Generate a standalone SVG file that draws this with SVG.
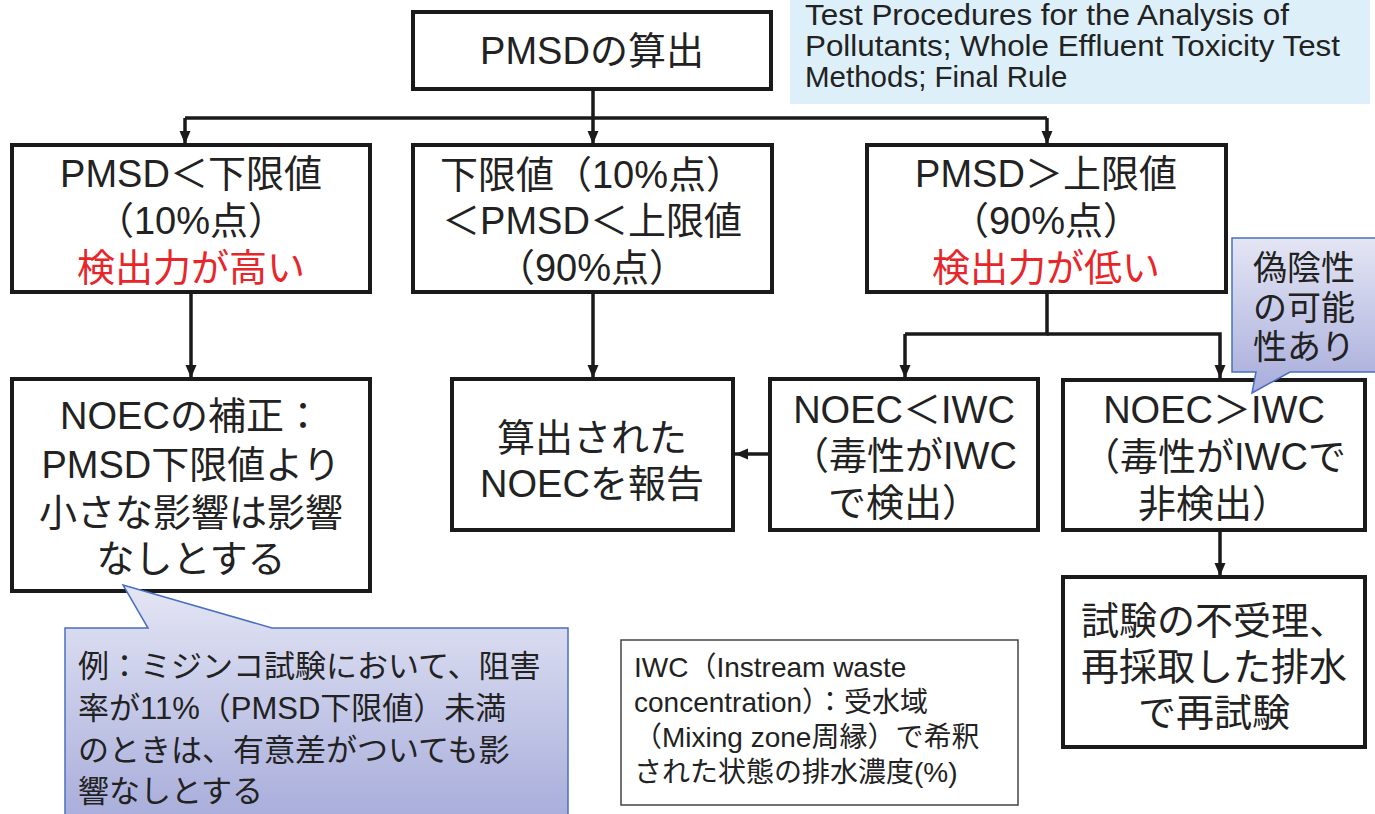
<svg xmlns="http://www.w3.org/2000/svg" width="1375" height="814" viewBox="0 0 1375 814">
<defs>
<marker id="ah" markerUnits="userSpaceOnUse" markerWidth="14" markerHeight="14" viewBox="0 0 14 14" refX="13" refY="7" orient="auto">
<path d="M0,1.5 L13,7 L0,12.5 Z" fill="#1a1a1a"/>
</marker>
<linearGradient id="cg" x1="0" y1="0" x2="0" y2="1">
<stop offset="0" stop-color="#e4e6f4"/>
<stop offset="1" stop-color="#a8addb"/>
</linearGradient>
</defs>
<style>
text{font-family:"Liberation Sans","Noto Sans CJK JP",sans-serif;fill:#222;}
.box{fill:#fff;stroke:#1a1a1a;stroke-width:4;}
.t{font-size:38px;text-anchor:middle;}
.red{fill:#e8262a;}
.con{fill:none;stroke:#1a1a1a;stroke-width:3.5;}
.call{stroke:#4a6fc0;stroke-width:1.5;}
.rt{font-size:29.5px;}
</style>
<rect width="1375" height="814" fill="#fff"/>

<g id="ref">
<rect x="790" y="0" width="580" height="104" fill="#ddf0f9"/>
<text class="rt" x="805" y="25" textLength="484" lengthAdjust="spacingAndGlyphs">Test Procedures for the Analysis of</text>
<text class="rt" x="805" y="56" textLength="535" lengthAdjust="spacingAndGlyphs">Pollutants; Whole Effluent Toxicity Test</text>
<text class="rt" x="805" y="87">Methods; Final Rule</text>
</g>

<g id="connectors">
<path class="con" d="M593,89 V118"/>
<path class="con" d="M185,118 H1047"/>
<path class="con" d="M185,118 V144" marker-end="url(#ah)"/>
<path class="con" d="M593,118 V144" marker-end="url(#ah)"/>
<path class="con" d="M1047,118 V144" marker-end="url(#ah)"/>
<path class="con" d="M191,292 V378" marker-end="url(#ah)"/>
<path class="con" d="M593,292 V378" marker-end="url(#ah)"/>
<path class="con" d="M1047,292 V334 H905"/>
<path class="con" d="M905,334 V378" marker-end="url(#ah)"/>
<path class="con" d="M1047,334 H1220 V378" marker-end="url(#ah)"/>
<path class="con" d="M770,454 H735" marker-end="url(#ah)"/>
<path class="con" d="M1220,530 V576" marker-end="url(#ah)"/>
</g>

<g id="n-top">
<rect class="box" x="413" y="12" width="358" height="77"/>
<text class="t" x="592" y="64" font-size="39">PMSDの算出</text>
</g>

<g id="n-low">
<rect class="box" x="12" y="145" width="358" height="147"/>
<text class="t" x="191" y="187">PMSD＜下限値</text>
<text class="t" x="191" y="234">（10%点）</text>
<text class="t red" x="191" y="281">検出力が高い</text>
</g>

<g id="n-mid">
<rect class="box" x="413" y="145" width="359" height="147"/>
<text class="t" x="592" y="188">下限値（10%点）</text>
<text class="t" x="592" y="234">＜PMSD＜上限値</text>
<text class="t" x="592" y="281">（90%点）</text>
</g>

<g id="n-high">
<rect class="box" x="867" y="145" width="359" height="147"/>
<text class="t" x="1046" y="187">PMSD＞上限値</text>
<text class="t" x="1046" y="234">（90%点）</text>
<text class="t red" x="1046" y="281">検出力が低い</text>
</g>

<g id="n-correct">
<rect class="box" x="12" y="379" width="358" height="212"/>
<text class="t" x="191" y="429">NOECの補正：</text>
<text class="t" x="191" y="478">PMSD下限値より</text>
<text class="t" x="191" y="526">小さな影響は影響</text>
<text class="t" x="191" y="572">なしとする</text>
</g>

<g id="n-report">
<rect class="box" x="452" y="379" width="281" height="151"/>
<text class="t" x="592" y="451">算出された</text>
<text class="t" x="592" y="497">NOECを報告</text>
</g>

<g id="n-lt">
<rect class="box" x="770" y="379" width="268" height="151"/>
<text class="t" x="904" y="423">NOEC＜IWC</text>
<text class="t" x="904" y="469">（毒性がIWC</text>
<text class="t" x="904" y="516">で検出）</text>
</g>

<g id="n-gt">
<rect class="box" x="1063" y="380" width="302" height="150"/>
<text class="t" x="1214" y="423">NOEC＞IWC</text>
<text class="t" x="1214" y="470">（毒性がIWCで</text>
<text class="t" x="1214" y="517">非検出）</text>
</g>

<g id="n-retest">
<rect class="box" x="1063" y="577" width="302" height="170"/>
<text class="t" x="1214" y="634">試験の不受理、</text>
<text class="t" x="1214" y="680">再採取した排水</text>
<text class="t" x="1214" y="726">で再試験</text>
</g>

<g id="n-falseneg">
<path class="call" fill="url(#cg)" d="M1232,238 H1380 V372 H1290 L1252,393 L1256,372 H1232 Z"/>
<text x="1304" y="280" font-size="34" text-anchor="middle">偽陰性</text>
<text x="1304" y="320" font-size="34" text-anchor="middle">の可能</text>
<text x="1304" y="359" font-size="34" text-anchor="middle">性あり</text>
</g>

<g id="n-example">
<path class="call" fill="url(#cg)" d="M65,628 H148 L123,585 L272,628 H568 V820 H65 Z"/>
<text x="78" y="677" font-size="31">例：ミジンコ試験において、阻害</text>
<text x="78" y="719" font-size="31">率が11%（PMSD下限値）未満</text>
<text x="78" y="761" font-size="31">のときは、有意差がついても影</text>
<text x="78" y="802" font-size="31">響なしとする</text>
</g>

<g id="n-iwc">
<rect x="621" y="640" width="397" height="165" fill="#fff" stroke="#444" stroke-width="1.5"/>
<text x="634" y="677" font-size="28">IWC（Instream waste</text>
<text x="634" y="712" font-size="28">concentration）：受水域</text>
<text x="634" y="747" font-size="28">（Mixing zone周縁）で希釈</text>
<text x="634" y="782" font-size="28">された状態の排水濃度(%)</text>
</g>
</svg>
